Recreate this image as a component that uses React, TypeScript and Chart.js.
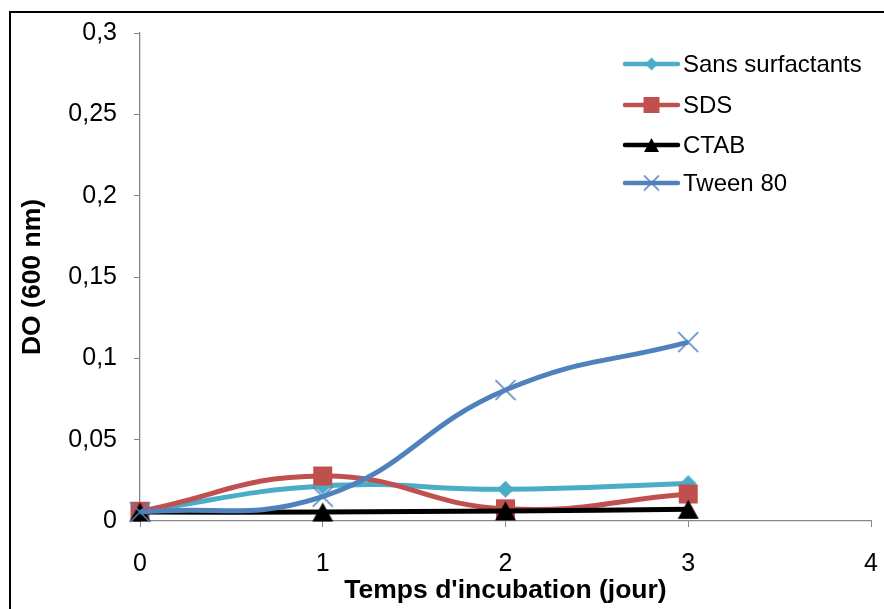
import React, { useEffect, useRef } from "react";
import { Chart, registerables } from "chart.js";

Chart.register(...registerables);

const days = [0, 1, 2, 3];
const sansSurfactants = [0.006, 0.0215, 0.0195, 0.023];
const sds = [0.006, 0.0277, 0.0075, 0.0166];
const ctab = [0.0055, 0.0055, 0.0062, 0.0072];
const tween80 = [0.0055, 0.015, 0.0805, 0.11];
const seriesNames = ["Sans surfactants", "SDS", "CTAB", "Tween 80"];
const seriesColors = ["#4BACC6", "#C0504D", "#000000", "#4F81BD"];
const xTicks = [0, 1, 2, 3, 4];
const yMax = 0.3;
const yStep = 0.05;

const FONT = "'Liberation Sans', Arial, sans-serif";

type Shape = "diamond" | "square" | "triangle" | "cross";

function makeMarker(shape: Shape, w: number, h: number, color: string): HTMLCanvasElement {
  const c = document.createElement("canvas");
  c.width = Math.ceil(w + 2);
  c.height = Math.ceil(h + 2);
  const g = c.getContext("2d")!;
  const cx = c.width / 2;
  const cy = c.height / 2;
  g.fillStyle = color;
  g.strokeStyle = color;
  g.beginPath();
  if (shape === "diamond") {
    g.moveTo(cx, cy - h / 2);
    g.lineTo(cx + w / 2, cy);
    g.lineTo(cx, cy + h / 2);
    g.lineTo(cx - w / 2, cy);
    g.closePath();
    g.fill();
  } else if (shape === "square") {
    g.rect(cx - w / 2, cy - h / 2, w, h);
    g.fill();
  } else if (shape === "triangle") {
    g.moveTo(cx, cy - h / 2);
    g.lineTo(cx + w / 2, cy + h / 2);
    g.lineTo(cx - w / 2, cy + h / 2);
    g.closePath();
    g.fill();
  } else {
    g.lineWidth = 1.6;
    g.moveTo(cx - w / 2, cy - h / 2);
    g.lineTo(cx + w / 2, cy + h / 2);
    g.moveTo(cx + w / 2, cy - h / 2);
    g.lineTo(cx - w / 2, cy + h / 2);
    g.stroke();
  }
  return c;
}

export default function App() {
  const ref = useRef<HTMLCanvasElement | null>(null);

  useEffect(() => {
    const canvas = ref.current;
    if (!canvas) return;

    const shapes: Shape[] = ["diamond", "square", "triangle", "cross"];
    const chartSizes: [number, number][] = [[17, 17], [19, 19], [21, 19], [20, 20]];
    const legendSizes: [number, number][] = [[13, 13], [16, 16], [15, 14], [15, 15]];
    const chartMarkers = shapes.map((s, i) => makeMarker(s, chartSizes[i][0], chartSizes[i][1], seriesColors[i]));
    const legendMarkers = shapes.map((s, i) => makeMarker(s, legendSizes[i][0], legendSizes[i][1], seriesColors[i]));
    const allSeries = [sansSurfactants, sds, ctab, tween80];

    const framePlugin = {
      id: "frame",
      afterDraw(chart: any) {
        const ctx = chart.ctx;
        ctx.save();
        ctx.strokeStyle = "#000";
        ctx.lineWidth = 2;
        ctx.beginPath();
        ctx.moveTo(10, 640);
        ctx.lineTo(10, 12);
        ctx.lineTo(900, 12);
        ctx.stroke();
        ctx.restore();
      },
    };

    const legendPlugin = {
      id: "customLegend",
      afterDraw(chart: any) {
        const ctx = chart.ctx;
        const x0 = 625;
        const x1 = 678;
        const rows = [64, 105, 145, 183];
        ctx.save();
        seriesNames.forEach((name, i) => {
          const y = rows[i];
          ctx.strokeStyle = seriesColors[i];
          ctx.lineWidth = 4.5;
          ctx.lineCap = "round";
          ctx.beginPath();
          ctx.moveTo(x0, y);
          ctx.lineTo(x1, y);
          ctx.stroke();
          const m = legendMarkers[i];
          ctx.drawImage(m, (x0 + x1) / 2 - m.width / 2, y - m.height / 2);
          ctx.fillStyle = "#000";
          ctx.font = `24px ${FONT}`;
          ctx.textAlign = "left";
          ctx.textBaseline = "middle";
          ctx.fillText(name, 683, y + 1);
        });
        ctx.restore();
      },
    };

    const datasets = seriesNames.map((name, i) => ({
      label: name,
      data: days.map((d, k) => ({ x: d, y: allSeries[i][k] })),
      borderColor: seriesColors[i],
      backgroundColor: seriesColors[i],
      borderWidth: 5,
      tension: 0.45,
      pointStyle: chartMarkers[i],
      pointRadius: 8,
      pointHoverRadius: 8,
      clip: false as any,
      order: 4 - i,
    }));

    const chart = new Chart(canvas, {
      type: "line",
      data: { datasets },
      options: {
        animation: false,
        responsive: false,
        devicePixelRatio: 1,
        events: [],
        layout: { padding: { left: 0, right: 11, top: 33, bottom: 0 } },
        plugins: {
          legend: { display: false },
          tooltip: { enabled: false },
          title: { display: false },
        },
        scales: {
          x: {
            type: "linear",
            min: 0,
            max: 4,
            afterBuildTicks: (scale: any) => {
              scale.ticks = xTicks.map((v) => ({ value: v }));
            },
            afterFit: (scale: any) => {
              scale.height = 88;
              scale.paddingLeft = 0;
              scale.paddingRight = 0;
            },
            ticks: {
              color: "#000",
              font: { family: FONT, size: 25 },
              padding: 22,
              maxRotation: 0,
            },
            grid: {
              drawOnChartArea: false,
              drawTicks: true,
              tickLength: 6,
              color: "#868686",
            },
            border: { display: true, color: "#868686", width: 1.3 },
            title: {
              display: true,
              text: "Temps d'incubation (jour)",
              color: "#000",
              font: { family: FONT, size: 26.5, weight: "bold" },
              padding: { top: 0, bottom: 2 },
            },
          },
          y: {
            type: "linear",
            min: 0,
            max: yMax,
            afterFit: (scale: any) => {
              scale.width = 140;
              scale.paddingTop = 0;
              scale.paddingBottom = 0;
            },
            ticks: {
              stepSize: yStep,
              color: "#000",
              font: { family: FONT, size: 25 },
              padding: 17,
              callback: (v: any) => String(Number(Number(v).toFixed(2))).replace(".", ","),
            },
            grid: {
              drawOnChartArea: false,
              drawTicks: true,
              tickLength: 6,
              color: "#868686",
            },
            border: { display: true, color: "#868686", width: 1.3 },
            title: {
              display: true,
              text: "DO (600 nm)",
              color: "#000",
              font: { family: FONT, size: 26.5, weight: "bold" },
              padding: { top: 17, bottom: 0 },
            },
          },
        },
      },
      plugins: [framePlugin, legendPlugin],
    });

    return () => chart.destroy();
  }, []);

  return (
    <div style={{ position: "fixed", left: 0, top: 0, width: 884, height: 609, background: "#fff" }}>
      <canvas ref={ref} width={884} height={609} style={{ display: "block" }} />
    </div>
  );
}
